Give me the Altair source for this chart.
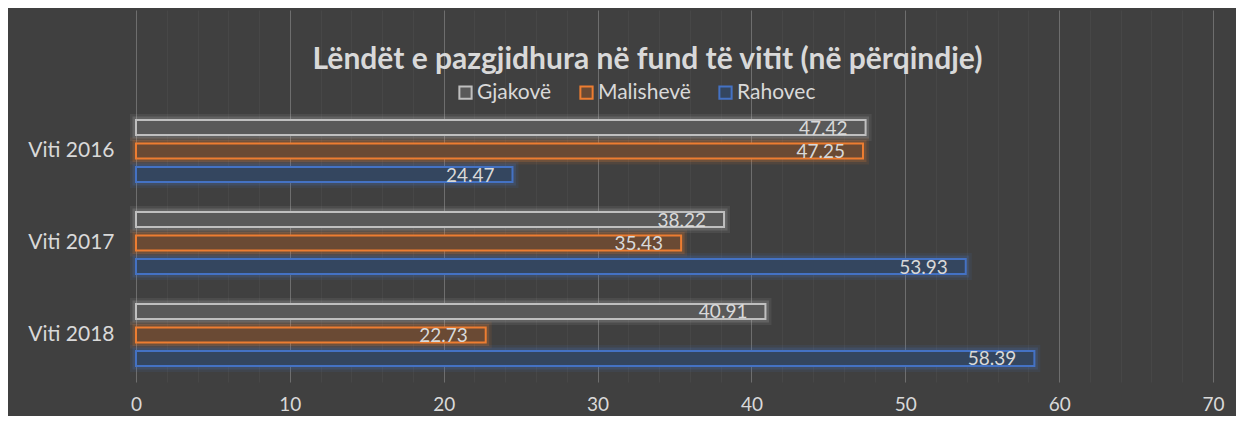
import altair as alt
import pandas as pd

years = ["Viti 2016", "Viti 2017", "Viti 2018"]
series = ["Gjakovë", "Malishevë", "Rahovec"]
gjakove = [47.42, 38.22, 40.91]
malisheve = [47.25, 35.43, 22.73]
rahovec = [24.47, 53.93, 58.39]

stroke_colors = ["#bfbfbf", "#ed7d31", "#4472c4"]
fill_colors = ["#595959", "#6a4a34", "#34465f"]

rows = []
for i, y in enumerate(years):
    for s, vals in zip(series, [gjakove, malisheve, rahovec]):
        rows.append({"year": y, "series": s, "value": vals[i]})
df = pd.DataFrame(rows)

FONT = "Lato"
TXT = "#d9d9d9"

y_enc = alt.Y("year:N", sort=years, title=None,
              scale=alt.Scale(paddingInner=0.326, paddingOuter=0.685, align=0.873),
              axis=alt.Axis(domain=False, ticks=False, labelPadding=22, labelFontSize=21,
                            labelColor=TXT, labelFont=FONT, grid=False))
yoff = alt.YOffset("series:N", sort=series,
                   scale=alt.Scale(paddingInner=0.362, paddingOuter=0))
x_enc = alt.X("value:Q", title=None,
              scale=alt.Scale(domain=[0, 70], nice=False),
              axis=alt.Axis(values=list(range(0, 72, 2)), labelExpr="datum.value % 10 === 0 ? datum.label : ''",
                            domain=False, ticks=False, labelPadding=13, labelFontSize=19,
                            labelFlush=False, labelOverlap=False, labelBound=False,
                            labelColor=TXT, labelFont=FONT, grid=True,
                            gridColor={"condition": {"test": "datum.value % 10 === 0", "value": "#6e6e6e"}, "value": "#474747"},
                            gridWidth=1))

stroke_enc = alt.Stroke("series:N", sort=series,
                        scale=alt.Scale(domain=series, range=stroke_colors),
                        legend=alt.Legend(title=None, orient="none", legendX=319, legendY=72,
                                          direction="horizontal", symbolType="square",
                                          symbolSize=150, symbolStrokeWidth=2,
                                          symbolFillColor="transparent",
                                          labelFontSize=21, labelColor=TXT, labelFont=FONT,
                                          columnPadding=24, labelOffset=1))
fill_enc = alt.Fill("series:N", sort=series,
                    scale=alt.Scale(domain=series, range=fill_colors), legend=None)

base = alt.Chart(df)

glow1 = base.mark_bar(fill="transparent", strokeWidth=12, strokeOpacity=0.10).encode(
    x=x_enc, y=y_enc, yOffset=yoff, stroke=stroke_enc)
glow2 = base.mark_bar(fill="transparent", strokeWidth=7, strokeOpacity=0.2).encode(
    x=x_enc, y=y_enc, yOffset=yoff, stroke=stroke_enc)

bars = base.mark_bar(strokeWidth=2).encode(
    x=x_enc, y=y_enc, yOffset=yoff, fill=fill_enc, stroke=stroke_enc)

labels = base.mark_text(align="right", baseline="middle", dx=-18, dy=1,
                        fontSize=19, font=FONT, color=TXT).encode(
    x=x_enc, y=y_enc, yOffset=yoff,
    text=alt.Text("value:Q", format=".2f"))

chart = alt.layer(glow1, glow2, bars, labels).properties(
    width=1077, height=372,
    title=alt.TitleParams("Lëndët e pazgjidhura në fund të vitit (në përqindje)",
                          fontSize=30, font=FONT, fontWeight="bold", color=TXT,
                          anchor="middle", orient="top", offset=0, baseline="alphabetic",
                          dx=-27, dy=89),
    autosize=alt.AutoSizeParams(type="none"),
    padding={"left": 128, "top": 2, "right": 23, "bottom": 34},
    background="#404040",
).configure_view(stroke=None)

chart.save("out.html", embed_options={"renderer": "svg", "actions": False})
